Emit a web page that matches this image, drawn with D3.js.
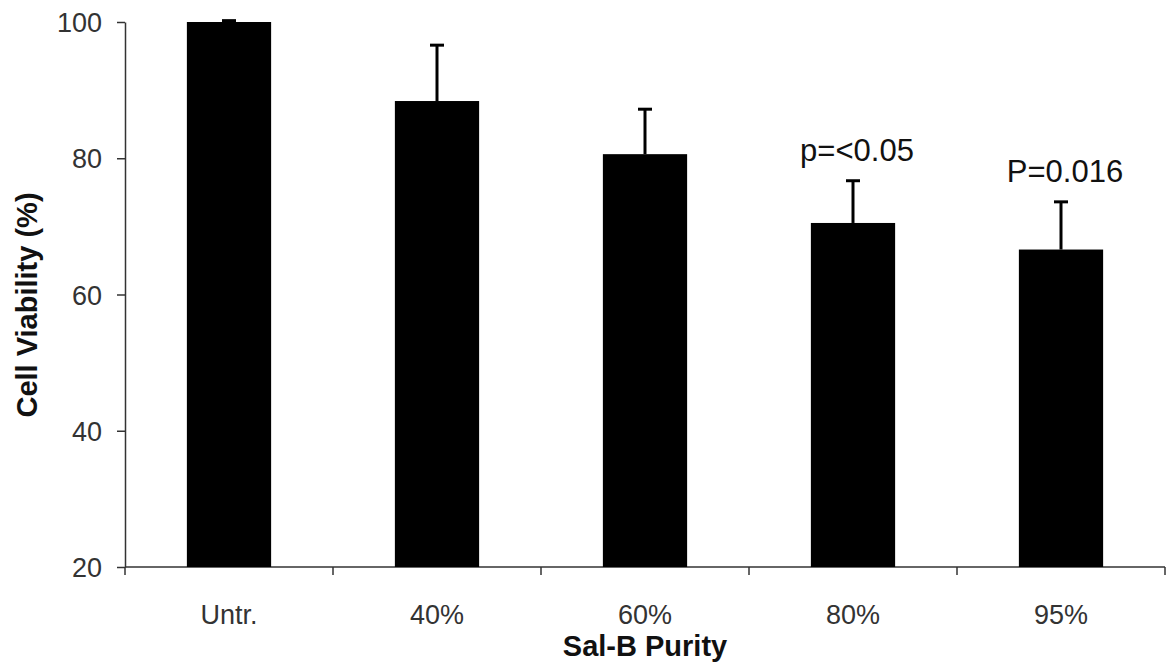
<!DOCTYPE html>
<html>
<head>
<meta charset="utf-8">
<script src="https://cdn.jsdelivr.net/npm/d3@7"></script>
<style>
  body { margin: 0; background: #fff; }
  svg { display: block; font-family: Arial, "Liberation Sans", sans-serif; }
  .tick text { fill: #333; font-size: 27px; }
  .domain, .tick line { stroke: #333; stroke-width: 1.5px; }
</style>
</head>
<body>
<svg id="chart" width="1176" height="666"></svg>
<script>
const categories = ['Untr.', '40%', '60%', '80%', '95%'];
const viability = [100, 88.4, 80.6, 70.5, 66.6];
const errors = [0.2, 8.2, 6.6, 6.2, 7.0];
const annotations = ['', '', '', 'p=<0.05', 'P=0.016'];
const yTicks = [20, 40, 60, 80, 100];

const svg = d3.select('#chart');
const plotLeft = 125, plotRight = 1165, plotTop = 22, plotBottom = 567;

const x = d3.scaleBand()
  .domain(categories)
  .range([plotLeft, plotRight])
  .paddingInner(0.595)
  .paddingOuter(0.2975);

const y = d3.scaleLinear()
  .domain([20, 100])
  .range([plotBottom, plotTop]);

const rows = categories.map((c, i) => ({
  name: c, value: viability[i], err: errors[i], note: annotations[i]
}));

// y axis
svg.append('g')
  .attr('transform', `translate(${plotLeft},0)`)
  .call(d3.axisLeft(y).tickValues(yTicks).tickSize(8).tickSizeOuter(0).tickPadding(15))
  .call(g => g.selectAll('text').attr('dy', '0.36em'));

// x axis: labels only, boundary ticks drawn separately
svg.append('g')
  .attr('transform', `translate(0,${plotBottom})`)
  .call(d3.axisBottom(x).tickSize(0).tickSizeOuter(0).tickPadding(38))
  .call(g => g.select('.domain').attr('d', `M${plotLeft},0H${plotRight}`));

const step = x.step();
svg.append('g')
  .selectAll('line')
  .data(d3.range(categories.length + 1))
  .join('line')
  .attr('x1', i => plotLeft + i * step)
  .attr('x2', i => plotLeft + i * step)
  .attr('y1', plotBottom)
  .attr('y2', plotBottom + 8)
  .attr('stroke', '#333')
  .attr('stroke-width', 1.5);

// bars
svg.append('g')
  .selectAll('rect')
  .data(rows)
  .join('rect')
  .attr('x', d => x(d.name))
  .attr('width', x.bandwidth())
  .attr('y', d => y(d.value))
  .attr('height', d => y(20) - y(d.value))
  .attr('fill', '#000');

// error bars
const eb = svg.append('g').attr('stroke', '#000').attr('stroke-width', 3);
rows.forEach(d => {
  const cx = x(d.name) + x.bandwidth() / 2;
  eb.append('line')
    .attr('x1', cx).attr('x2', cx)
    .attr('y1', y(d.value)).attr('y2', y(d.value + d.err));
  eb.append('line')
    .attr('x1', cx - 7).attr('x2', cx + 7)
    .attr('y1', y(d.value + d.err)).attr('y2', y(d.value + d.err));
});

// significance labels
svg.append('g')
  .selectAll('text')
  .data(rows.filter(d => d.note))
  .join('text')
  .attr('x', d => x(d.name) + x.bandwidth() / 2 + 4)
  .attr('y', d => y(d.value + d.err) - 20)
  .attr('text-anchor', 'middle')
  .attr('font-size', 31)
  .attr('fill', '#111')
  .text(d => d.note);

// axis titles
svg.append('text')
  .attr('x', 645)
  .attr('y', 656)
  .attr('text-anchor', 'middle')
  .attr('font-size', 29)
  .attr('font-weight', 'bold')
  .attr('fill', '#111')
  .text('Sal-B Purity');

svg.append('text')
  .attr('transform', 'translate(37,305) rotate(-90)')
  .attr('text-anchor', 'middle')
  .attr('font-size', 29)
  .attr('font-weight', 'bold')
  .attr('fill', '#111')
  .text('Cell Viability (%)');
</script>
</body>
</html>
